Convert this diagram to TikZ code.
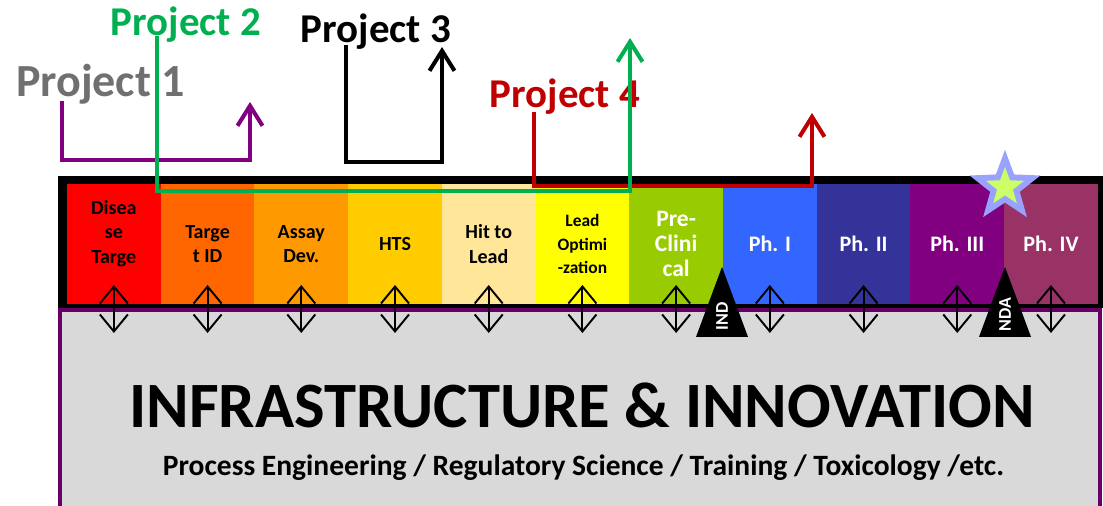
\documentclass[tikz,border=0pt]{standalone}
\usepackage{fontspec}
\setmainfont{Carlito}
\usepackage{xcolor}
\usepackage{tikz}
\usetikzlibrary{positioning,arrows.meta,shapes.geometric}

\definecolor{cRed}{HTML}{FF0000}
\definecolor{cOrange}{HTML}{FF6600}
\definecolor{cAmber}{HTML}{FF9900}
\definecolor{cGold}{HTML}{FFCC00}
\definecolor{cCream}{HTML}{FFE699}
\definecolor{cYellow}{HTML}{FFFF00}
\definecolor{cLime}{HTML}{99CC00}
\definecolor{cBlue}{HTML}{3366FF}
\definecolor{cNavy}{HTML}{333399}
\definecolor{cPurple}{HTML}{800080}
\definecolor{cWine}{HTML}{993366}
\definecolor{cBoxGray}{HTML}{D9D9D9}
\definecolor{cBoxLine}{HTML}{660066}
\definecolor{cTxtGray}{HTML}{707070}
\definecolor{cGreen}{HTML}{00B050}
\definecolor{cDarkRed}{HTML}{C00000}
\definecolor{cStarIn}{HTML}{CCFF66}
\definecolor{cStarOut}{HTML}{99A3FF}

\begin{document}
\begin{tikzpicture}[
    x=0.02cm, y=-0.02cm,
    phase/.style={rectangle, minimum width=1.8746cm, minimum height=2.4cm, inner sep=0pt, outer sep=0pt,
        align=center, font=\bfseries\fontsize{11.4}{14}\selectfont},
    light/.style={phase, text=white, font=\bfseries\fontsize{12.6}{14.2}\selectfont},
    link/.style={line width=1.1pt, {Straight Barb[length=0.34cm,width=0.56cm]}-{Straight Barb[length=0.34cm,width=0.56cm]}},
    proj/.style={line width=2.3pt, -{Straight Barb[length=0.4cm,width=0.5cm]}},
    mile/.style={isosceles triangle, isosceles triangle stretches, rotate=90, fill=black, anchor=apex,
        minimum width=1.04cm, minimum height=1.4cm, inner sep=0pt, text=white,
        font=\bfseries\fontsize{10.2}{12}\selectfont},
    title/.style={anchor=base, inner sep=0pt, font=\bfseries\fontsize{23.3}{28}\selectfont}
]
\useasboundingbox (0,0) rectangle (1103,506);
\clip (0,0) rectangle (1103,506);

% infrastructure box and pipeline frame
\draw[draw=cBoxLine, line width=2.3pt, fill=cBoxGray] (60,310) rectangle (1100,540);
\fill[black] (58,176) rectangle (1110,308);

% pipeline phases
\node[phase, fill=cRed] (disease) at (113.87,244) {Disea\\se\\Targe\\\phantom{t}};
\node[phase, fill=cOrange, right=0pt of disease] (target) {Targe\\t ID};
\node[phase, fill=cAmber, right=0pt of target] (assay) {Assay\\Dev.};
\node[phase, fill=cGold, right=0pt of assay] (hts) {HTS};
\node[phase, fill=cCream, right=0pt of hts] (hit) {Hit to\\Lead};
\node[phase, fill=cYellow, right=0pt of hit, font=\bfseries\fontsize{9.9}{13.4}\selectfont] (leadopt) {Lead\\Optimi\\-zation};
\node[light, fill=cLime, right=0pt of leadopt, font=\bfseries\fontsize{13.4}{14.4}\selectfont] (preclin) {Pre-\\Clini\\cal};
\node[light, fill=cBlue, right=0pt of preclin] (ph1) {Ph. I};
\node[light, fill=cNavy, right=0pt of ph1] (ph2) {Ph. II};
\node[light, fill=cPurple, right=0pt of ph2] (ph3) {Ph. III};
\node[light, fill=cWine, right=0pt of ph3] (ph4) {Ph. IV};

% links to infrastructure
\draw[link] ([yshift=0.38cm]disease.south) -- ([yshift=-0.58cm]disease.south);
\draw[link] ([yshift=0.38cm]target.south) -- ([yshift=-0.58cm]target.south);
\draw[link] ([yshift=0.38cm]assay.south) -- ([yshift=-0.58cm]assay.south);
\draw[link] ([yshift=0.38cm]hts.south) -- ([yshift=-0.58cm]hts.south);
\draw[link] ([yshift=0.38cm]hit.south) -- ([yshift=-0.58cm]hit.south);
\draw[link] ([yshift=0.38cm]leadopt.south) -- ([yshift=-0.58cm]leadopt.south);
\draw[link] ([yshift=0.38cm]preclin.south) -- ([yshift=-0.58cm]preclin.south);
\draw[link] ([yshift=0.38cm]ph1.south) -- ([yshift=-0.58cm]ph1.south);
\draw[link] ([yshift=0.38cm]ph2.south) -- ([yshift=-0.58cm]ph2.south);
\draw[link] ([yshift=0.38cm]ph3.south) -- ([yshift=-0.58cm]ph3.south);
\draw[link] ([yshift=0.38cm]ph4.south) -- ([yshift=-0.58cm]ph4.south);

% milestones
\node[mile] (ind) at (722,266) {IND};
\node[mile] (nda) at (1005,266) {NDA};
\node[star, star points=5, star point ratio=2.4, minimum size=0.8cm, inner sep=0pt,
    preaction={draw=cStarOut, line width=6.8pt}, fill=cStarIn] (approval) at (1005,187) {};

% projects
\node[title, text=cTxtGray, font=\bfseries\fontsize{26.2}{30}\selectfont] (proj1) at (100.5,97) {Project 1};
\node[title, text=cGreen] (proj2) at (186,36) {Project 2};
\node[title, text=black] (proj3) at (376,43) {Project 3};
\node[title, text=cDarkRed] (proj4) at (565,108) {Project 4};

\coordinate (p1turn) at (62,160);
\coordinate (p1tip) at (250,102);
\coordinate (p2turn) at (157,191);
\coordinate (p2tip) at (630,38);
\coordinate (p3turn) at (346,162);
\coordinate (p3tip) at (442,47);
\coordinate (p4turn) at (534,186);
\coordinate (p4tip) at (812,113);

\draw[proj, draw=cPurple] ([yshift=-2pt]proj1.base -| p1turn) -- (p1turn) -| (p1tip);
\draw[proj, draw=black] ([yshift=-1pt]proj3.base -| p3turn) -- (p3turn) -| (p3tip);
\draw[proj, draw=cDarkRed] ([yshift=-2pt]proj4.base -| p4turn) -- (p4turn) -| (p4tip);
\draw[proj, draw=cGreen] (proj2.base -| p2turn) -- (p2turn) -| (p2tip);

% infrastructure text
\node[anchor=base, inner sep=0pt, font=\bfseries\fontsize{36.8}{41}\selectfont] (infra) at (582,428) {INFRASTRUCTURE \& INNOVATION};
\node[anchor=base, inner sep=0pt, font=\bfseries\fontsize{16.8}{20}\selectfont] (areas) at (583.5,476) {Process Engineering / Regulatory Science / Training / Toxicology /etc.};
\end{tikzpicture}
\end{document}
